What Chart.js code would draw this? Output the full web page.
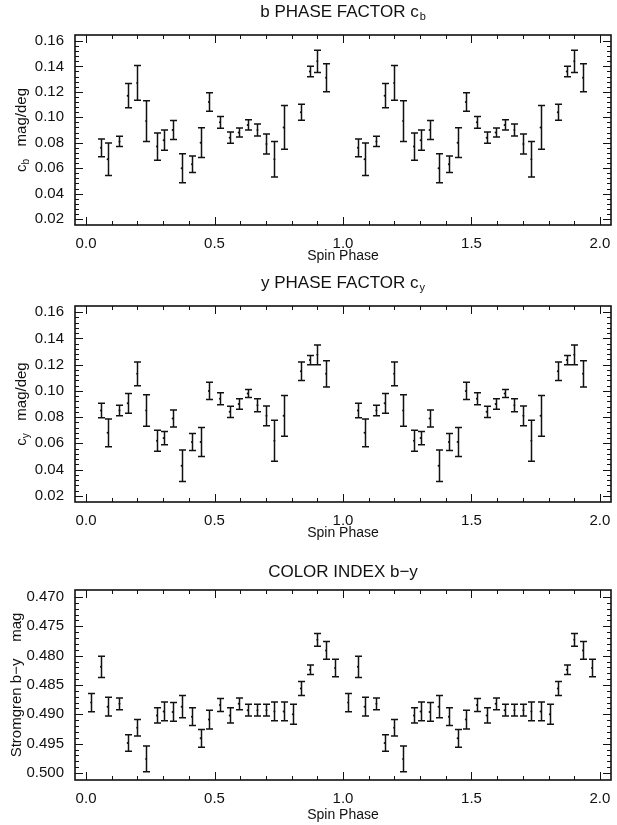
<!DOCTYPE html>
<html><head><meta charset="utf-8">
<script src="https://cdn.jsdelivr.net/npm/chart.js@4.4.1/dist/chart.umd.min.js"></script>
<style>
html,body{margin:0;padding:0;background:#fff;}
body{width:617px;height:825px;position:relative;overflow:hidden;}
canvas{position:absolute;left:0;}
</style></head>
<body>
<canvas id="c1" width="617" height="270" style="top:0px"></canvas>
<canvas id="c2" width="617" height="276" style="top:271px"></canvas>
<canvas id="c3" width="617" height="270" style="top:555px"></canvas>
<script>
// ---- data (one spin cycle; the figure plots each point at phase and phase+1) ----
const phaseC = [0.058,0.084,0.130,0.162,0.199,0.234,0.276,0.302,0.337,0.372,0.412,0.446,0.478,0.521,0.559,0.594,0.629,0.667,0.702,0.733,0.769,0.836,0.871,0.900,0.934];
const cb    = [0.076,0.067,0.081,0.117,0.127,0.097,0.077,0.082,0.090,0.060,0.063,0.080,0.112,0.096,0.084,0.088,0.094,0.090,0.079,0.067,0.092,0.104,0.136,0.144,0.131];
const cbErr = [0.007,0.0128,0.004,0.0095,0.0137,0.016,0.0107,0.008,0.0075,0.0114,0.0065,0.0117,0.0073,0.0046,0.0044,0.0035,0.004,0.0048,0.0078,0.014,0.0172,0.0063,0.0042,0.0087,0.011];
const cy    = [0.085,0.068,0.085,0.0905,0.113,0.085,0.062,0.064,0.079,0.043,0.061,0.061,0.100,0.094,0.084,0.090,0.098,0.089,0.081,0.062,0.081,0.115,0.1235,0.1275,0.113];
const cyErr = [0.0055,0.0105,0.004,0.0075,0.009,0.012,0.008,0.005,0.0065,0.012,0.0065,0.011,0.0065,0.0045,0.0042,0.004,0.003,0.005,0.0075,0.0156,0.0155,0.007,0.0035,0.0075,0.010];
const phaseBY = [0.020,0.058,0.084,0.130,0.162,0.199,0.234,0.276,0.302,0.337,0.372,0.412,0.446,0.478,0.521,0.559,0.594,0.629,0.667,0.702,0.733,0.769,0.805,0.836,0.871,0.900,0.934,0.969];
const by    = [0.4880,0.4819,0.4887,0.4882,0.4949,0.4923,0.4976,0.4902,0.4895,0.4896,0.4887,0.4904,0.4941,0.4909,0.4884,0.4902,0.4882,0.4893,0.4893,0.4893,0.4895,0.4895,0.4900,0.4856,0.4824,0.4773,0.4791,0.4821];
const byErr = [0.00155,0.0018,0.0016,0.001,0.0014,0.0014,0.0022,0.0013,0.0016,0.0016,0.0019,0.0015,0.0015,0.0016,0.0011,0.0013,0.001,0.001,0.001,0.001,0.0016,0.0016,0.0017,0.0012,0.0008,0.0011,0.0015,0.0015];
const cycles = [0, 1];
// ---- ticks ----
const xTicks = [0, 0.5, 1.0, 1.5, 2.0];
const xTickLabels = ['0.0','0.5','1.0','1.5','2.0'];
const yTicksC = [0.02,0.04,0.06,0.08,0.10,0.12,0.14,0.16];
const yTickLabelsC = ['0.02','0.04','0.06','0.08','0.10','0.12','0.14','0.16'];
const yTicksBY = [0.470,0.475,0.480,0.485,0.490,0.495,0.500];
const yTickLabelsBY = ['0.470','0.475','0.480','0.485','0.490','0.495','0.500'];

const FONT = "'Liberation Sans', Arial, Helvetica, sans-serif";
const INK = '#111';

function pts(ph, v, e){
  const out = [];
  cycles.forEach(c => ph.forEach((p,i) => out.push({x: p + c, y: v[i], e: e[i]})));
  return out;
}

const errorBars = {
  id: 'errorBars',
  afterDatasetsDraw(chart){
    const {ctx, scales:{x, y}} = chart;
    ctx.save();
    ctx.strokeStyle = INK; ctx.lineWidth = 1.5;
    chart.data.datasets[0].data.forEach(d => {
      const px = Math.round(x.getPixelForValue(d.x)) + 0.5;
      const a = y.getPixelForValue(d.y - d.e), b = y.getPixelForValue(d.y + d.e);
      ctx.beginPath();
      ctx.moveTo(px, a); ctx.lineTo(px, b);
      ctx.moveTo(px - 3.5, a); ctx.lineTo(px + 3.5, a);
      ctx.moveTo(px - 3.5, b); ctx.lineTo(px + 3.5, b);
      ctx.stroke();
    });
    ctx.restore();
  }
};

const frameTicks = {
  id: 'frameTicks',
  afterDraw(chart, args, o){
    const {ctx, chartArea: A, scales:{x, y}} = chart;
    ctx.save();
    ctx.strokeStyle = INK;
    ctx.lineWidth = 1;
    for (let k = 0; k <= 20; k++){
      const v = k / 10, px = Math.round(x.getPixelForValue(v)) + 0.5;
      const L = (k % 5 === 0) ? 8 : 4;
      ctx.beginPath();
      ctx.moveTo(px, A.bottom); ctx.lineTo(px, A.bottom - L);
      ctx.moveTo(px, A.top); ctx.lineTo(px, A.top + L);
      ctx.stroke();
    }
    const n = Math.round((o.yMax - o.yMin) / o.yMinor);
    for (let k = 0; k <= n; k++){
      const v = o.yMin + k * o.yMinor, py = Math.round(y.getPixelForValue(v)) + 0.5;
      const L = (k % o.per === 0) ? 8 : 4;
      ctx.beginPath();
      ctx.moveTo(A.left, py); ctx.lineTo(A.left + L, py);
      ctx.moveTo(A.right, py); ctx.lineTo(A.right - L, py);
      ctx.stroke();
    }
    ctx.lineWidth = 1.6;
    ctx.strokeRect(A.left, A.top, A.right - A.left, A.bottom - A.top);
    // title with optional subscript
    ctx.fillStyle = INK;
    ctx.textBaseline = 'middle';
    const tf = '17px ' + FONT, sf = '11px ' + FONT;
    ctx.font = tf; const w1 = ctx.measureText(o.title).width;
    ctx.font = sf; const w2 = o.titleSub ? ctx.measureText(o.titleSub).width + 1 : 0;
    const cx = (A.left + A.right) / 2, ty = A.top - o.titleGap;
    let sx = cx - (w1 + w2) / 2;
    ctx.textAlign = 'left';
    ctx.font = tf; ctx.fillText(o.title, sx, ty);
    if (o.titleSub){ ctx.font = sf; ctx.fillText(o.titleSub, sx + w1 + 1, ty + 5); }
    // rotated y title
    ctx.save();
    ctx.translate(o.yTitleX, (A.top + A.bottom) / 2);
    ctx.rotate(-Math.PI / 2);
    const parts = o.yTitle;
    let tw = 0;
    parts.forEach(p => { ctx.font = (p.sub ? '10px ' : '15px ') + FONT; p.w = ctx.measureText(p.t).width; tw += p.w; });
    let xx = -tw / 2;
    parts.forEach(p => { ctx.font = (p.sub ? '10px ' : '15px ') + FONT; ctx.fillText(p.t, xx, p.sub ? 4 : 0); xx += p.w; });
    ctx.restore();
    ctx.restore();
  }
};

function makeChart(id, data, yMin, yMax, yTicks, yLabels, reverse, frameOpts, titleBottom){
  return new Chart(document.getElementById(id), {
    type: 'scatter',
    data: { datasets: [{ data, pointRadius: 1, pointBackgroundColor: INK, pointBorderWidth: 0, showLine: false }] },
    options: {
      responsive: false, animation: false, events: [],
      layout: { padding: { top: 35, right: 6, left: 0, bottom: 0 } },
      plugins: { legend: { display: false }, tooltip: { enabled: false }, frameTicks: frameOpts },
      scales: {
        x: {
          type: 'linear', min: -0.043, max: 2.043,
          grid: { display: false }, border: { display: false },
          afterBuildTicks: s => { s.ticks = xTicks.map(v => ({ value: v })); },
          ticks: { callback: (v, i) => xTickLabels[i], font: { family: FONT, size: 15 }, color: INK, padding: 2, maxRotation: 0, autoSkip: false },
          title: { display: true, text: 'Spin Phase', font: { family: FONT, size: 14 }, color: INK, padding: { top: 0, bottom: titleBottom } },
          afterFit: s => { s.height = 45; }
        },
        y: {
          type: 'linear', min: yMin, max: yMax, reverse,
          grid: { display: false }, border: { display: false },
          afterBuildTicks: s => { s.ticks = yTicks.map(v => ({ value: v })); },
          ticks: { callback: (v, i) => yLabels[i], font: { family: FONT, size: 15 }, color: INK, padding: 3, autoSkip: false },
          afterFit: s => { s.width = 75; }
        }
      }
    },
    plugins: [errorBars, frameTicks]
  });
}

makeChart('c1', pts(phaseC, cb, cbErr), 0.0153, 0.1647, yTicksC, yTickLabelsC, false,
  { yMin: 0.02, yMax: 0.16, yMinor: 0.004, per: 5, title: 'b PHASE FACTOR c', titleSub: 'b', titleGap: 23, yTitleX: 22,
    yTitle: [{t:'c'},{t:'b',sub:true},{t:'   mag/deg'}] }, 5);
makeChart('c2', pts(phaseC, cy, cyErr), 0.0153, 0.1647, yTicksC, yTickLabelsC, false,
  { yMin: 0.02, yMax: 0.16, yMinor: 0.004, per: 5, title: 'y PHASE FACTOR c', titleSub: 'y', titleGap: 23, yTitleX: 22,
    yTitle: [{t:'c'},{t:'y',sub:true},{t:'   mag/deg'}] }, 5);
makeChart('c3', pts(phaseBY, by, byErr), 0.4688, 0.5012, yTicksBY, yTickLabelsBY, true,
  { yMin: 0.470, yMax: 0.500, yMinor: 0.001, per: 5, title: 'COLOR INDEX b\u2212y', titleSub: '', titleGap: 18, yTitleX: 17,
    yTitle: [{t:'Stromgren b\u2212y    mag'}] }, 1);
</script>
</body></html>
